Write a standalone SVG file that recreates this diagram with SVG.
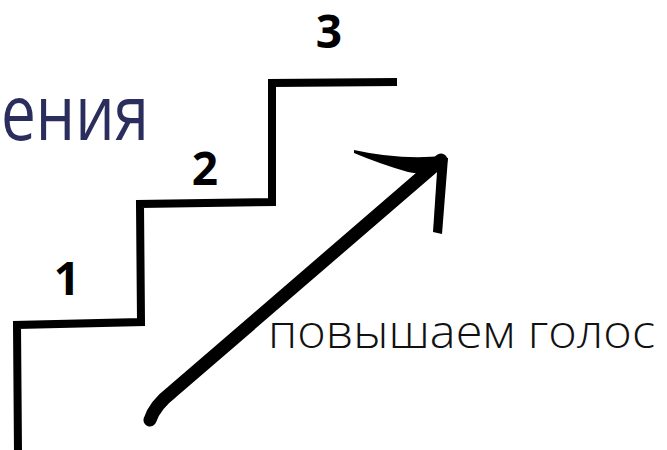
<svg xmlns="http://www.w3.org/2000/svg" width="667" height="450" viewBox="0 0 667 450">
<style>
.title{font-family:"Open Sans","Liberation Sans",sans-serif;font-size:76px;fill:#2b2d5c}
.num{font-family:"Open Sans","Liberation Sans",sans-serif;font-size:46px;font-weight:700;fill:#000;text-anchor:middle}
.cap{font-family:"Open Sans","Liberation Sans",sans-serif;font-size:46px;font-weight:300;fill:#111}
.stair{fill:none;stroke:#000;stroke-width:8;stroke-linejoin:miter}
</style>
<rect width="667" height="450" fill="#fff"/>
<text class="title" x="1" y="140" textLength="148" lengthAdjust="spacingAndGlyphs">ения</text>
<g id="stairs">
<path class="stair" d="M18,452 L17,325 L141,322 L140,204 L272,202 L272,83 L397,82"/>
</g>
<g id="step1"><text class="num" x="67" y="295">1</text></g>
<g id="step2"><text class="num" x="205" y="185">2</text></g>
<g id="step3"><text class="num" x="329" y="48">3</text></g>
<g id="arrow">
<path d="M150,420 Q155,405 172,392 L441,160" fill="none" stroke="#000" stroke-width="13" stroke-linecap="round"/>
<path d="M354,150 Q398,160 444,156 L446,168 Q425,176 408,172 Q380,164 354,153 Z" fill="#000"/>
<path d="M438,157 L448,158 L442,234 L433,232 Z" fill="#000"/>
</g>
<g id="caption"><text class="cap" x="268" y="348" textLength="387" lengthAdjust="spacingAndGlyphs">повышаем голос</text></g>
</svg>
